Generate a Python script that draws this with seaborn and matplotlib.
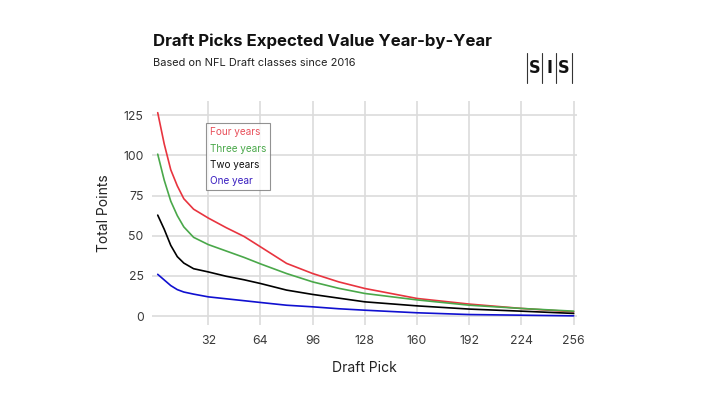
import pandas as pd
import matplotlib.pyplot as plt
import seaborn as sns
from matplotlib.lines import Line2D

# Values
picks = [1, 5, 9, 13, 17, 23, 32, 43, 54, 64, 80, 96, 112, 128, 160, 192, 224, 256]
four_years = [126.5, 107, 91, 81, 73, 66.5, 61, 55, 49.5, 43.1, 32.8, 26.5, 21.3, 17.2, 11, 7.5, 4.8, 2.7]
three_years = [100.7, 84.5, 71.5, 62.5, 55.5, 49, 44.5, 40.5, 36.5, 32.5, 26.5, 21.3, 17.3, 14.1, 10.1, 6.8, 4.8, 3.1]
two_years = [62.8, 54, 44, 37, 33, 29.5, 27.5, 24.8, 22.6, 20.3, 16.2, 13.5, 11.2, 8.9, 6.4, 4.4, 3.1, 1.7]
one_year = [26, 22.5, 19, 16.5, 15, 13.7, 12, 10.8, 9.6, 8.5, 6.8, 5.8, 4.6, 3.7, 2.1, 1.0, 0.6, 0.2]

series_names = ['Four years', 'Three years', 'Two years', 'One year']
line_colors = ['#e8343f', '#4aa84a', '#000000', '#1010d0']
text_colors = ['#e8505b', '#4aa84a', '#111111', '#3a1fc0']

df = pd.DataFrame({'pick': picks * 4,
                   'points': four_years + three_years + two_years + one_year,
                   'series': sum([[n] * len(picks) for n in series_names], [])})

sns.set_style('white')
plt.rcParams['font.family'] = ['Inter', 'DejaVu Sans']

fig = plt.figure(figsize=(7.07, 3.98), dpi=100)
ax = fig.add_axes([0.215, 0.183, 0.601, 0.563])

sns.lineplot(data=df, x='pick', y='points', hue='series', hue_order=series_names,
             palette=line_colors, linewidth=1.2, legend=False, ax=ax)

ax.set_xlim(-2.5, 258)
ax.set_ylim(-5.6, 133.7)
ax.set_xticks([32, 64, 96, 128, 160, 192, 224, 256])
ax.set_yticks([0, 25, 50, 75, 100, 125])
ax.grid(True, color='#dcdcdc', linewidth=1.2)
for s in ax.spines.values():
    s.set_visible(False)
ax.tick_params(axis='both', length=0, labelsize=8.8, labelcolor='#3a3a3a')
ax.tick_params(axis='x', pad=7)
ax.tick_params(axis='y', pad=6)
ax.set_xlabel('Draft Pick', fontsize=10, color='#222222', labelpad=10)
ax.set_ylabel('Total Points', fontsize=10, color='#222222', labelpad=9)

# legend: colored text in a gray box, no handles
handles = [Line2D([], [], linestyle='none') for _ in series_names]
leg = ax.legend(handles, series_names, loc='upper left', bbox_to_anchor=(0.126, 0.90),
                handlelength=0, handletextpad=0, fontsize=7.2, frameon=True,
                fancybox=False, borderpad=0.4, labelspacing=0.62, borderaxespad=0)
leg.get_frame().set_edgecolor('#777777')
leg.get_frame().set_linewidth(0.8)
for t, c in zip(leg.get_texts(), text_colors):
    t.set_color(c)

# title and subtitle
fig.text(0.216, 0.885, 'Draft Picks Expected Value Year-by-Year', fontsize=12.1,
         fontweight='bold', color='#111111')
fig.text(0.216, 0.835, 'Based on NFL Draft classes since 2016', fontsize=7.9, color='#222222')

# SIS logo
for xb in [0.745, 0.767, 0.787, 0.809]:
    fig.add_artist(Line2D([xb, xb], [0.792, 0.868], color='#333333', linewidth=0.8))
for xl, ch in zip([0.756, 0.777, 0.798], ['S', 'I', 'S']):
    fig.text(xl, 0.830, ch, fontsize=13, fontweight='bold', ha='center', va='center',
             color='#111111', fontstretch='condensed', family=['DejaVu Sans'])

plt.savefig('out.png', dpi=100)
